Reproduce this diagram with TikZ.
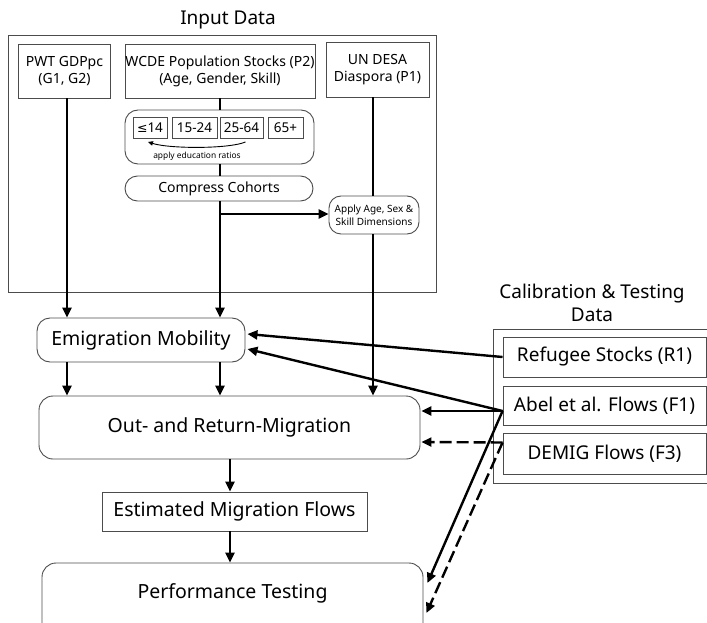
\documentclass[tikz,border=0pt]{standalone}
\usepackage{fontspec}
\setmainfont{Noto Sans}
\newfontfamily\symfont{DejaVu Sans}
\usetikzlibrary{arrows.meta,calc}

\tikzset{
  boxline/.style={draw=black!70, line width=0.9pt},
  sqbox/.style={boxline, rectangle, align=center, inner sep=0pt},
  rbox/.style={boxline, rectangle, rounded corners=13pt, align=center, inner sep=0pt},
  agebox/.style={boxline, rectangle, inner sep=0pt, minimum height=21pt, font=\fontsize{13.5}{15}\selectfont},
  flow/.style={line width=2.4pt, -{Triangle[length=10pt,width=9pt]}},
  link/.style={line width=2.4pt},
  dashflow/.style={flow, dash pattern=on 12pt off 5pt},
  big/.style={font=\fontsize{19.5}{23}\selectfont},
  mid/.style={font=\fontsize{14}{17}\selectfont},
  cal/.style={font=\fontsize{19}{23}\selectfont},
}

\begin{document}
\begin{tikzpicture}[x=1pt,y=-1pt]
\useasboundingbox (0,0) rectangle (707,623);
\clip (0,0) rectangle (707,623);

% ---------- input data block ----------
\node[font=\fontsize{19}{23}\selectfont] (intitle) at (228,20) {Input Data};
\node[sqbox, minimum width=428pt, minimum height=257pt] (inbox) at (222,163.5) {};

\node[sqbox, mid, minimum width=92pt, minimum height=54pt] (pwt) at (64.5,71) {PWT GDPpc\\(G1, G2)};
\node[sqbox, mid, minimum width=190pt, minimum height=54pt] (wcde) at (220,71) {WCDE Population Stocks (P2)\\(Age, Gender, Skill)};
\node[sqbox, mid, minimum width=103pt, minimum height=55pt] (undesa) at (377.5,69.5) {UN DESA\\Diaspora (P1)};

\node[rbox, minimum width=189pt, minimum height=54pt] (ages) at (219.5,137) {};
\node[agebox, minimum width=34pt] (a1) at (150,128) {{\symfont\fontsize{12.5}{14}\selectfont ≤}14};
\node[agebox, minimum width=45pt] (a2) at (194.5,128) {15-24};
\node[agebox, minimum width=43pt] (a3) at (241.5,128) {25-64};
\node[agebox, minimum width=35pt] (a4) at (285.5,128) {65+};
\draw[line width=0.9pt, -{Triangle[length=5pt,width=4.5pt]}]
  ($(a3.south)+(4,3)$) .. controls ($(a3.south)+(-12,10)$) and ($(a1.south)+(20,10)$) .. ($(a1.south)+(-2,3)$);
\node[font=\fontsize{8.4}{10}\selectfont] (edu) at (197,156) {apply education ratios};

\node[rbox, mid, rounded corners=12.5pt, minimum width=188pt, minimum height=25pt] (compress) at (219,188.5) {Compress Cohorts};
\node[rbox, font=\fontsize{10}{13}\selectfont, rounded corners=12pt, minimum width=90pt, minimum height=38pt] (apply) at (374,215) {Apply Age, Sex \&\\Skill Dimensions};

% ---------- model chain ----------
\node[rbox, big, minimum width=208pt, minimum height=44pt] (emig) at (141,340) {Emigration Mobility};
\node[rbox, big, rounded corners=14pt, minimum width=381pt, minimum height=63pt] (outret) at (229.5,427.5) {Out- and Return-Migration};
\node[sqbox, big, minimum width=265pt, minimum height=39pt] (est) at (234.5,511.5) {Estimated Migration Flows};
\node[rbox, rounded corners=14pt, minimum width=381pt, minimum height=74pt] (perf) at (232.5,600) {};
\node[big] (perftext) at (232.5,593) {Performance Testing};

% ---------- calibration data block ----------
\node[cal, align=center] (caltitle) at (592,303) {Calibration \& Testing\\Data};
\node[sqbox, minimum width=240pt, minimum height=154pt] (calbox) at (613,406) {};
\node[sqbox, cal, minimum width=203pt, minimum height=40pt] (refugee) at (604.5,357) {Refugee Stocks (R1)};
\node[sqbox, cal, minimum width=203pt, minimum height=39pt] (abel) at (604.5,405.5) {Abel et al. Flows (F1)};
\node[sqbox, cal, minimum width=203pt, minimum height=41pt] (demig) at (604.5,453.5) {DEMIG Flows (F3)};

% ---------- vertical feeds ----------
\coordinate (xl) at (67,0);
\coordinate (xm) at (220,0);
\coordinate (xr) at (373,0);

\draw[flow] (pwt.south -| xl) -- (emig.north -| xl);
\draw[link] (wcde.south -| xm) -- (ages.north -| xm);
\draw[link] (ages.south -| xm) -- (compress.north -| xm);
\draw[flow] (compress.south -| xm) -- (emig.north -| xm);
\coordinate (branch) at (220,214);
\draw[flow] (branch) -- (apply.west |- branch);
\draw[link] (undesa.south -| xr) -- (apply.north -| xr);
\draw[flow] (apply.south -| xr) -- (outret.north -| xr);

\draw[flow] (emig.south -| xl) -- (outret.north -| xl);
\draw[flow] (emig.south -| xm) -- (outret.north -| xm);

\coordinate (xc) at (230,0);
\draw[flow] (outret.south -| xc) -- (est.north -| xc);
\draw[flow] (est.south -| xc) -- (perf.north -| xc);

% ---------- calibration links ----------
\coordinate (abelout) at ($(abel.west)+(0,5.5)$);
\coordinate (demigout) at ($(demig.west)+(0,-11)$);
\draw[flow] (refugee.west) -- ($(emig.east)+(2,-6)$);
\draw[flow] (abelout) -- ($(emig.east)+(2,9)$);
\draw[flow] (abelout) -- ($(outret.east)+(1,-16.5)$);
\draw[flow] (abelout) -- ($(perf.east)+(4,-17)$);
\draw[dashflow] (demigout) -- ($(outret.east)+(1,14.5)$);
\draw[dashflow] (demigout) -- ($(perf.east)+(3,13)$);
\end{tikzpicture}
\end{document}
